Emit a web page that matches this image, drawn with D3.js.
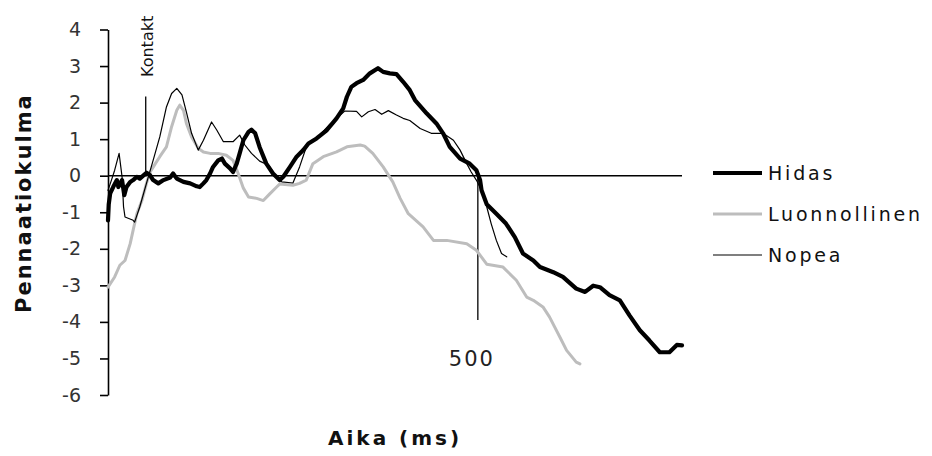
<!DOCTYPE html>
<html><head><meta charset="utf-8">
<script src="https://cdn.jsdelivr.net/npm/d3@7"></script>
<style>body{margin:0;background:#fff;overflow:hidden}</style>
</head><body>
<svg id="c" width="932" height="456"></svg>
<script>
const seriesNames = ["Hidas", "Luonnollinen", "Nopea"];

const hidasTime = [0,1,3,7,12,14,19,22,25,30,34,39,43,48,52,57,61,68,75,84,88,93,102,111,120,124,129,133,138,142,149,154,158,165,169,174,178,183,190,194,199,205,214,223,232,237,246,255,264,271,282,296,309,318,323,329,336,345,354,365,372,381,390,399,408,415,431,444,453,462,476,489,498,503,505,512,525,538,550,561,575,584,602,615,633,645,656,665,678,692,705,719,732,746,759,769,776];
const hidasValue = [-1.22,-0.78,-0.48,-0.31,-0.12,-0.31,-0.12,-0.53,-0.31,-0.17,-0.12,-0.03,-0.08,0.01,0.08,0.01,-0.12,-0.21,-0.12,-0.05,0.06,-0.08,-0.17,-0.21,-0.29,-0.31,-0.21,-0.12,0.06,0.24,0.42,0.47,0.33,0.20,0.10,0.33,0.61,0.97,1.20,1.26,1.16,0.78,0.33,0.06,-0.12,-0.03,0.24,0.52,0.70,0.88,1.02,1.25,1.57,1.84,2.16,2.43,2.53,2.62,2.80,2.94,2.84,2.80,2.78,2.57,2.34,2.07,1.70,1.43,1.16,0.79,0.47,0.33,0.15,-0.12,-0.40,-0.78,-1.04,-1.31,-1.68,-2.13,-2.32,-2.50,-2.64,-2.77,-3.09,-3.18,-3.01,-3.05,-3.27,-3.41,-3.82,-4.23,-4.51,-4.83,-4.83,-4.63,-4.64];

const luonnollinenTime = [0,9,16,23,30,34,39,46,52,57,64,70,79,86,93,97,102,106,113,122,129,138,149,160,169,176,183,190,201,210,219,228,232,250,259,268,277,291,309,323,341,347,358,372,385,395,406,426,440,458,485,498,512,534,552,566,575,588,597,611,620,633,638];
const luonnollinenValue = [-3.05,-2.77,-2.45,-2.32,-1.86,-1.49,-1.04,-0.67,-0.21,0.10,0.33,0.52,0.79,1.34,1.79,1.93,1.79,1.43,1.06,0.75,0.65,0.61,0.61,0.56,0.42,0.06,-0.34,-0.58,-0.62,-0.68,-0.49,-0.31,-0.23,-0.26,-0.21,-0.12,0.33,0.52,0.65,0.79,0.84,0.81,0.61,0.24,-0.17,-0.62,-1.04,-1.40,-1.77,-1.77,-1.86,-2.04,-2.42,-2.50,-2.86,-3.32,-3.41,-3.59,-3.87,-4.42,-4.78,-5.10,-5.15];

const nopeaTime = [0,5,9,15,19,21,23,34,36,43,52,61,70,79,86,93,100,106,113,122,129,140,147,156,169,178,185,194,205,217,228,235,250,259,269,282,300,314,320,336,343,352,361,370,379,390,399,408,422,437,453,467,476,485,491,498,505,512,518,525,532,539];
const nopeaValue = [-0.40,-0.10,0.15,0.61,-0.03,-0.85,-1.13,-1.22,-1.27,-0.85,-0.21,0.42,1.06,1.88,2.25,2.39,2.21,1.74,1.16,0.70,0.97,1.47,1.25,0.93,0.93,1.11,0.84,0.61,0.40,0.29,-0.03,-0.17,-0.20,0.24,0.84,1.02,1.41,1.66,1.77,1.76,1.61,1.75,1.81,1.68,1.78,1.66,1.57,1.51,1.29,1.16,1.16,0.97,0.70,0.33,0.10,-0.12,-0.40,-0.85,-1.31,-1.77,-2.13,-2.22];

const yTickValues = [4, 3, 2, 1, 0, -1, -2, -3, -4, -5, -6];
const timeExtent = [0, 776];
const contactTime = 51;
const contactTop = 2.17;
const contactLabel = "Kontakt";
const markTime = 500;
const markBottom = -3.95;
const markLabel = "500";
const xTitle = "Aika (ms)";
const yTitle = "Pennaatiokulma";

const svg = d3.select("#c");
const x = d3.scaleLinear().domain(timeExtent).range([108, 682]);
const y = d3.scaleLinear().domain([-6, 4]).range([395, 29.5]);

const series = [
  {name: seriesNames[0], data: d3.zip(hidasTime, hidasValue), color: "#000", width: 4.2},
  {name: seriesNames[1], data: d3.zip(luonnollinenTime, luonnollinenValue), color: "#bdbdbd", width: 3},
  {name: seriesNames[2], data: d3.zip(nopeaTime, nopeaValue), color: "#000", width: 1.2}
];

// y axis
const yAxis = d3.axisLeft(y).tickValues(yTickValues).tickSize(8).tickSizeOuter(0).tickPadding(19)
  .tickFormat(d => d < 0 ? "-" + Math.abs(d) : String(d));
const ga = svg.append("g").attr("transform", "translate(108,0)").call(yAxis);
ga.select(".domain").attr("stroke", "#000").attr("stroke-width", 1.6);
ga.selectAll(".tick line").attr("stroke", "#000").attr("stroke-width", 1.6);
ga.selectAll(".tick text").attr("font-family", "DejaVu Sans").attr("font-size", 19).attr("fill", "#333");

// zero line
svg.append("line").attr("x1", x(timeExtent[0])).attr("x2", x(timeExtent[1]))
  .attr("y1", y(0)).attr("y2", y(0)).attr("stroke", "#000").attr("stroke-width", 1.5);

// contact and 500 markers
svg.append("line").attr("x1", x(contactTime)).attr("x2", x(contactTime))
  .attr("y1", y(0)).attr("y2", y(contactTop)).attr("stroke", "#000").attr("stroke-width", 1.3);
svg.append("line").attr("x1", x(markTime)).attr("x2", x(markTime))
  .attr("y1", y(0)).attr("y2", y(markBottom)).attr("stroke", "#000").attr("stroke-width", 1.3);

const line = d3.line().x(d => x(d[0])).y(d => y(d[1]));
[series[1], series[2], series[0]].forEach(s => {
  svg.append("path").datum(s.data).attr("d", line).attr("fill", "none")
    .attr("stroke", s.color).attr("stroke-width", s.width)
    .attr("stroke-linejoin", "round").attr("stroke-linecap", "round");
});

// labels
svg.append("text").attr("transform", `translate(${x(contactTime) + 7},77) rotate(-90)`)
  .attr("font-family", "DejaVu Sans").attr("font-size", 16).attr("fill", "#111").text(contactLabel);
svg.append("text").attr("x", x(markTime) - 29).attr("y", 366)
  .attr("font-family", "DejaVu Sans").attr("font-size", 21).attr("letter-spacing", 2).attr("fill", "#222").text(markLabel);

svg.append("text").attr("x", 328).attr("y", 445)
  .attr("font-family", "DejaVu Sans").attr("font-weight", "bold").attr("font-size", 20)
  .attr("letter-spacing", 3).attr("fill", "#111").text(xTitle);
svg.append("text").attr("transform", "translate(31,313) rotate(-90)")
  .attr("font-family", "DejaVu Sans").attr("font-weight", "bold").attr("font-size", 21)
  .attr("letter-spacing", 2).attr("fill", "#111").text(yTitle);

// legend
const legY = [173, 214, 255];
series.forEach((s, i) => {
  svg.append("line").attr("x1", 713).attr("x2", 762).attr("y1", legY[i]).attr("y2", legY[i])
    .attr("stroke", s.color).attr("stroke-width", s.width);
  svg.append("text").attr("x", 768).attr("y", legY[i]).attr("dy", "0.36em")
    .attr("font-family", "DejaVu Sans").attr("font-size", 19).attr("letter-spacing", 2.8)
    .attr("fill", "#111").text(s.name);
});
</script>
</body></html>
